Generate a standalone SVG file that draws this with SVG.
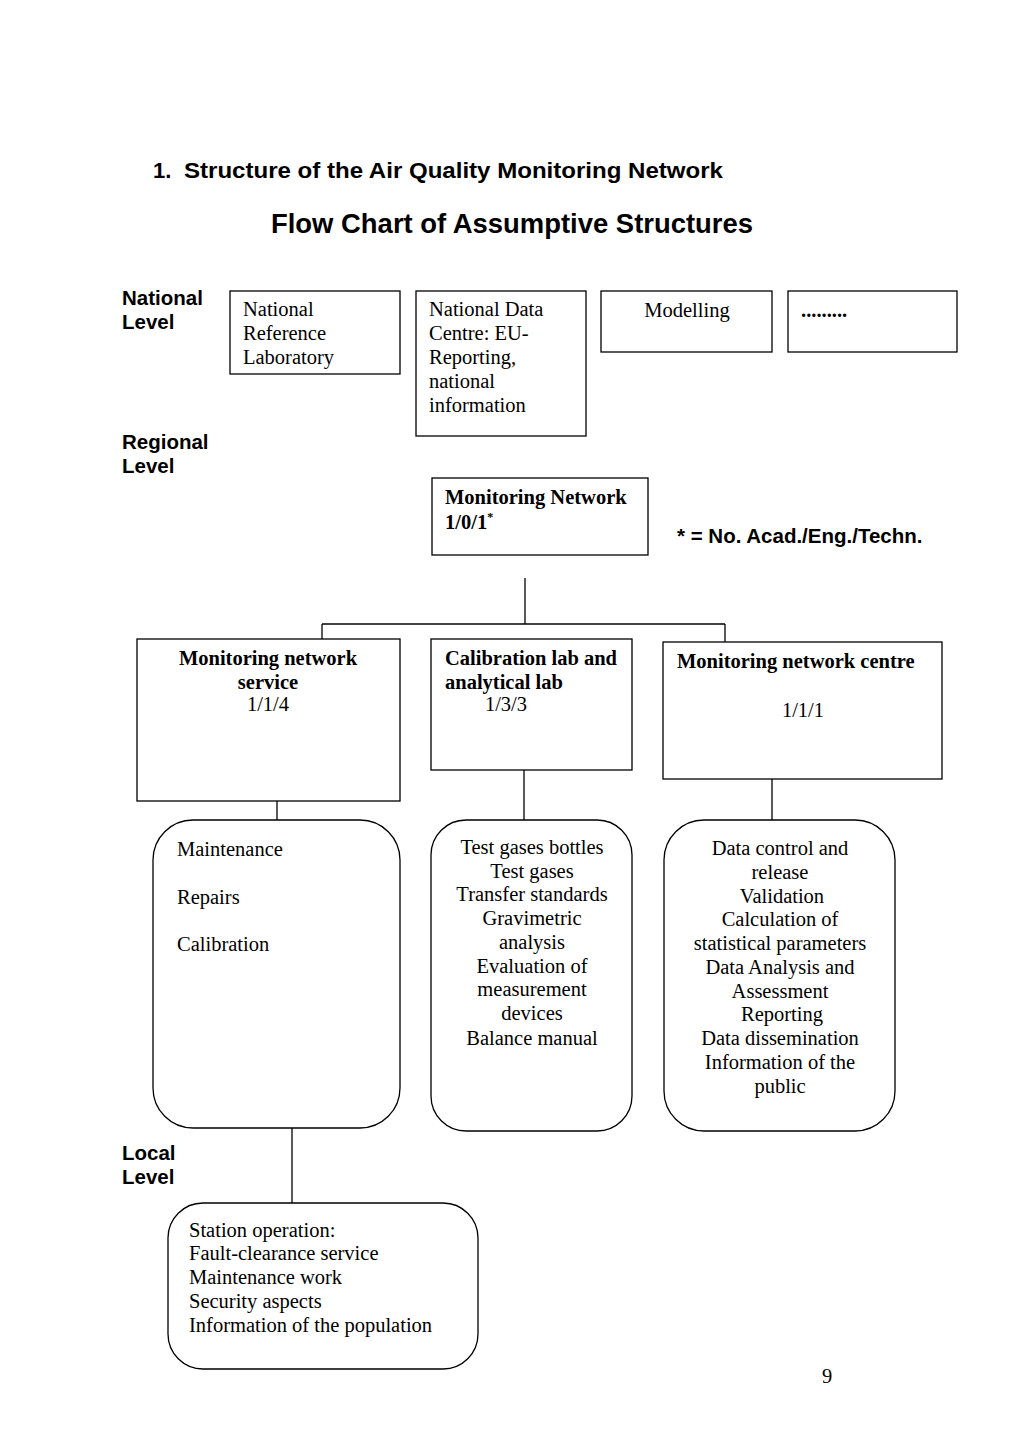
<svg xmlns="http://www.w3.org/2000/svg" width="1024" height="1449" viewBox="0 0 1024 1449">
<style>
.bg{fill:#fff}
.box{fill:#fff;stroke:#000;stroke-width:1.3}
.rbox{fill:#fff;stroke:#000;stroke-width:1.3}
.ln{stroke:#000;stroke-width:1.3;fill:none}
.h{font-family:"Liberation Sans",Arial,sans-serif;font-weight:bold;fill:#000}
.lv{font-size:20.5px}
.t{font-family:"Liberation Serif","Times New Roman",serif;font-size:20.5px;fill:#000}
.b{font-weight:bold}
.c{text-anchor:middle}
</style>
<rect class="bg" x="0" y="0" width="1024" height="1449"/>
<g id="titles">
<text class="h" x="153" y="178" font-size="22">1.</text>
<text class="h" x="184" y="178" font-size="22" textLength="539" lengthAdjust="spacingAndGlyphs">Structure of the Air Quality Monitoring Network</text>
<text class="h" x="271" y="233" font-size="27.5" textLength="482" lengthAdjust="spacingAndGlyphs">Flow Chart of Assumptive Structures</text>
<text class="h lv" x="122" y="305">National</text>
<text class="h lv" x="122" y="329">Level</text>
<text class="h lv" x="122" y="449">Regional</text>
<text class="h lv" x="122" y="473">Level</text>
<text class="h lv" x="122" y="1160">Local</text>
<text class="h lv" x="122" y="1184">Level</text>
<text class="h lv" x="677" y="543">* = No. Acad./Eng./Techn.</text>
<text class="t" x="822" y="1383" font-size="16">9</text>
</g>
<g id="connectors">
<line class="ln" x1="525" y1="578" x2="525" y2="624"/>
<line class="ln" x1="322" y1="624" x2="725" y2="624"/>
<line class="ln" x1="322" y1="624" x2="322" y2="639"/>
<line class="ln" x1="725" y1="624" x2="725" y2="642"/>
<line class="ln" x1="277" y1="801" x2="277" y2="820"/>
<line class="ln" x1="524" y1="770" x2="524" y2="820"/>
<line class="ln" x1="772" y1="779" x2="772" y2="820"/>
<line class="ln" x1="292" y1="1128" x2="292" y2="1203"/>
</g>
<g id="national-reference-laboratory">
<rect class="box" x="230" y="291" width="170" height="83"/>
<text class="t" x="243" y="316">National</text>
<text class="t" x="243" y="340">Reference</text>
<text class="t" x="243" y="364">Laboratory</text>
</g>
<g id="national-data-centre">
<rect class="box" x="416" y="291" width="170" height="145"/>
<text class="t" x="429" y="316">National Data</text>
<text class="t" x="429" y="340">Centre: EU-</text>
<text class="t" x="429" y="364">Reporting,</text>
<text class="t" x="429" y="388">national</text>
<text class="t" x="429" y="412">information</text>
</g>
<g id="modelling">
<rect class="box" x="601" y="291" width="171" height="61"/>
<text class="t c" x="687" y="317">Modelling</text>
</g>
<g id="dots">
<rect class="box" x="788" y="291" width="169" height="61"/>
<text class="t b" x="801" y="317">.........</text>
</g>
<g id="monitoring-network">
<rect class="box" x="432" y="478" width="216" height="77"/>
<text class="t b" x="445" y="504">Monitoring Network</text>
<text class="t b" x="445" y="529">1/0/1<tspan font-size="12" dy="-8">*</tspan></text>
</g>
<g id="monitoring-network-service">
<rect class="box" x="137" y="639" width="263" height="162"/>
<text class="t b c" x="268" y="665">Monitoring network</text>
<text class="t b c" x="268" y="689">service</text>
<text class="t c" x="268" y="711">1/1/4</text>
</g>
<g id="calibration-lab">
<rect class="box" x="431" y="639" width="201" height="131"/>
<text class="t b" x="445" y="665">Calibration lab and</text>
<text class="t b" x="445" y="689">analytical lab</text>
<text class="t c" x="506" y="711">1/3/3</text>
</g>
<g id="monitoring-network-centre">
<rect class="box" x="663" y="642" width="279" height="137"/>
<text class="t b" x="677" y="668">Monitoring network centre</text>
<text class="t c" x="803" y="717">1/1/1</text>
</g>
<g id="service-tasks">
<rect class="rbox" x="153" y="820" width="247" height="308" rx="40" ry="40"/>
<text class="t" x="177" y="856">Maintenance</text>
<text class="t" x="177" y="904">Repairs</text>
<text class="t" x="177" y="951">Calibration</text>
</g>
<g id="lab-tasks">
<rect class="rbox" x="431" y="820" width="201" height="311" rx="35" ry="35"/>
<text class="t c" x="532" y="854">Test gases bottles</text>
<text class="t c" x="532" y="878">Test gases</text>
<text class="t c" x="532" y="901">Transfer standards</text>
<text class="t c" x="532" y="925">Gravimetric</text>
<text class="t c" x="532" y="949">analysis</text>
<text class="t c" x="532" y="973">Evaluation of</text>
<text class="t c" x="532" y="996">measurement</text>
<text class="t c" x="532" y="1020">devices</text>
<text class="t c" x="532" y="1045">Balance manual</text>
</g>
<g id="centre-tasks">
<rect class="rbox" x="664" y="820" width="231" height="311" rx="40" ry="40"/>
<text class="t c" x="780" y="855">Data control and</text>
<text class="t c" x="780" y="879">release</text>
<text class="t c" x="782" y="903">Validation</text>
<text class="t c" x="780" y="926">Calculation of</text>
<text class="t c" x="780" y="950">statistical parameters</text>
<text class="t c" x="780" y="974">Data Analysis and</text>
<text class="t c" x="780" y="998">Assessment</text>
<text class="t c" x="782" y="1021">Reporting</text>
<text class="t c" x="780" y="1045">Data dissemination</text>
<text class="t c" x="780" y="1069">Information of the</text>
<text class="t c" x="780" y="1093">public</text>
</g>
<g id="station-operation">
<rect class="rbox" x="168" y="1203" width="310" height="166" rx="35" ry="35"/>
<text class="t" x="189" y="1237">Station operation:</text>
<text class="t" x="189" y="1260">Fault-clearance service</text>
<text class="t" x="189" y="1284">Maintenance work</text>
<text class="t" x="189" y="1308">Security aspects</text>
<text class="t" x="189" y="1332">Information of the population</text>
</g>
</svg>
